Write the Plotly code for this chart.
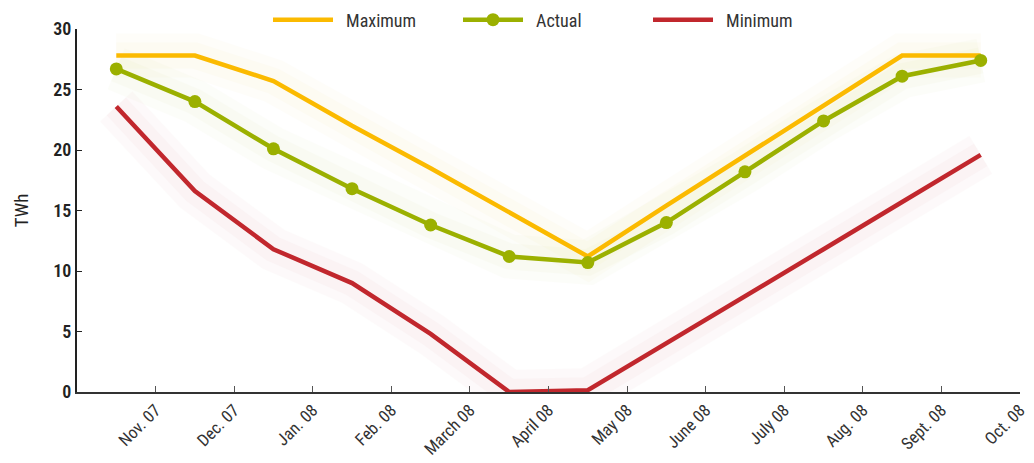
import plotly.graph_objects as go

months = ["Nov. 07", "Dec. 07", "Jan. 08", "Feb. 08", "March 08", "April 08",
          "May 08", "June 08", "July 08", "Aug. 08", "Sept. 08", "Oct. 08"]
maximum = [27.8, 27.8, 25.7, 22.0, 18.5, 14.8, 11.2, 15.4, 19.5, 23.6, 27.8, 27.8]
actual = [26.7, 24.0, 20.1, 16.8, 13.8, 11.2, 10.7, 14.0, 18.2, 22.4, 26.1, 27.4]
minimum = [23.6, 16.6, 11.8, 9.0, 4.8, 0.0, 0.15, 4.0, 7.9, 11.8, 15.7, 19.6]

C_MAX = "#FBBA00"
C_ACT = "#9BB000"
C_MIN = "#C1272D"

x = list(range(len(months)))
tickpos = [i + 0.5 for i in x]

fig = go.Figure()

# soft glow under the lines
for vals, col in [(maximum, C_MAX), (actual, C_ACT), (minimum, C_MIN)]:
    for w, op in [(44, 0.02), (26, 0.025)]:
        fig.add_trace(go.Scatter(x=x, y=vals, mode="lines",
                                 line=dict(color=col, width=w),
                                 opacity=op, showlegend=False, hoverinfo="skip"))

fig.add_trace(go.Scatter(x=x, y=maximum, name="\u2002Maximum", mode="lines",
                         line=dict(color=C_MAX, width=4.5)))
fig.add_trace(go.Scatter(x=x, y=actual, name="\u2002Actual", mode="lines+markers",
                         line=dict(color=C_ACT, width=4.5),
                         marker=dict(color=C_ACT, size=13)))
fig.add_trace(go.Scatter(x=x, y=minimum, name="\u2002Minimum", mode="lines",
                         line=dict(color=C_MIN, width=4.5)))

FONT = "Liberation Sans Narrow, Roboto Condensed, Roboto, sans-serif"

fig.update_layout(
    width=1034, height=463,
    margin=dict(l=77, r=14, t=29, b=71, autoexpand=False),
    paper_bgcolor="white", plot_bgcolor="white",
    font=dict(family=FONT, color="#222222", size=16),
    showlegend=True,
    legend=dict(orientation="h", x=(268 - 77) / 943, xanchor="left",
                yref="container", y=1 - 20 / 463, yanchor="middle",
                font=dict(size=18, color="#333333"), entrywidth=115,
                itemwidth=60,
                bgcolor="rgba(0,0,0,0)"),
    xaxis=dict(range=[-0.5, 11.5], tickvals=tickpos, ticktext=months,
               tickangle=-45, ticks="inside", ticklen=6, tickcolor="#555555",
               showline=True, linecolor="#333333", linewidth=1.5,
               showgrid=False, zeroline=False, automargin=False,
               tickfont=dict(size=17, color="#333333")),
    yaxis=dict(range=[0, 30], tickvals=[0, 5, 10, 15, 20, 25, 30],
               ticks="inside", ticklen=5, tickcolor="#222222",
               showline=True, linecolor="#222222", linewidth=2,
               showgrid=False, zeroline=False, automargin=False,
               title=dict(text="TWh", font=dict(size=19, color="#222222"), standoff=20),
               tickfont=dict(size=18, color="#222222", weight=600)),
)

fig.write_html("out.html")
